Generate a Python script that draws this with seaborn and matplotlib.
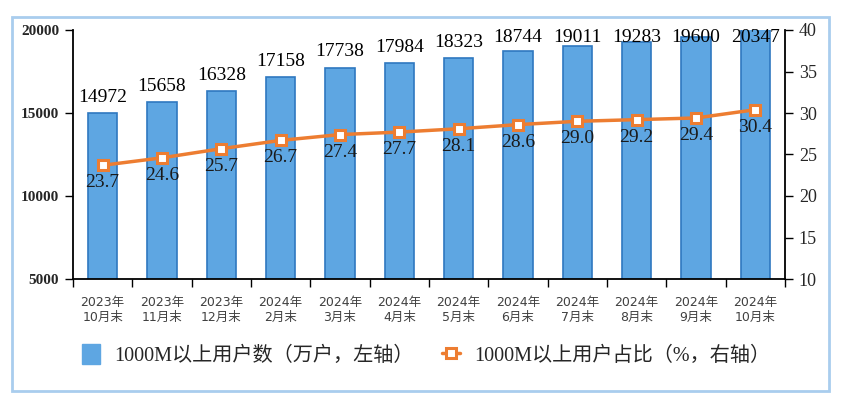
import matplotlib
matplotlib.use("Agg")
import matplotlib.pyplot as plt
import seaborn as sns
import numpy as np
import pandas as pd
from matplotlib.patches import Rectangle
from matplotlib.lines import Line2D
from matplotlib.patches import Patch

categories = ["2023年\n10月末", "2023年\n11月末", "2023年\n12月末", "2024年\n2月末",
              "2024年\n3月末", "2024年\n4月末", "2024年\n5月末", "2024年\n6月末",
              "2024年\n7月末", "2024年\n8月末", "2024年\n9月末", "2024年\n10月末"]
users = [14972, 15658, 16328, 17158, 17738, 17984, 18323, 18744, 19011, 19283, 19600, 20347]
share = [23.7, 24.6, 25.7, 26.7, 27.4, 27.7, 28.1, 28.6, 29.0, 29.2, 29.4, 30.4]
left_ticks = [5000, 10000, 15000, 20000]
right_ticks = [10, 15, 20, 25, 30, 35, 40]
bar_label = "1000M以上用户数（万户，左轴）"
line_label = "1000M以上用户占比（%，右轴）"

sns.set_theme(style="white")
plt.rcParams['font.family'] = ['Liberation Serif', 'Noto Sans CJK SC', 'DejaVu Sans']

BLUE = "#5ea6e2"
BLUE_EDGE = "#2f78c0"
ORANGE = "#ed7d31"

fig = plt.figure(figsize=(8.41, 3.97), dpi=100)
ax = fig.add_axes([73/841, 1-279/397, (785-73)/841, (279-30)/397])

df = pd.DataFrame({"cat": categories, "users": users, "share": share})
sns.barplot(data=df, x="cat", y="users", color=BLUE, width=0.49, ax=ax,
            edgecolor=BLUE_EDGE, linewidth=1.2, saturation=1)
ax.set_ylim(5000, 20000)
ax.set_xlim(-0.5, len(categories) - 0.5)
ax.set_yticks(left_ticks)
ax.set_yticklabels([str(t) for t in left_ticks], fontsize=11, fontweight="bold",
                   family="Liberation Serif")
ax.set_xlabel("")
ax.set_ylabel("")
ax.set_xticks(np.arange(len(categories)))
ax.set_xticklabels(categories, fontsize=9, family=["DejaVu Sans", "Noto Sans CJK SC"],
                   color="#404040", linespacing=1.2)
ax.tick_params(axis="x", length=0, pad=12)
ax.set_xticks(np.arange(-0.5, len(categories)), minor=True)
ax.tick_params(axis="x", which="minor", length=6, width=1, color="black", direction="out", bottom=True)
ax.tick_params(axis="y", length=6, width=1, color="black", direction="out", left=True, pad=4)
for s in ["top", "right"]:
    ax.spines[s].set_visible(False)
for s in ["left", "bottom"]:
    ax.spines[s].set_color("black")
    ax.spines[s].set_linewidth(1.3)

for i, v in enumerate(users):
    y = min(v + 950, 19520)
    ax.text(i, y, str(v), ha="center", va="center", fontsize=14,
            family="Liberation Serif", color="black", clip_on=False)

ax2 = ax.twinx()
sns.lineplot(x=np.arange(len(share)), y=share, ax=ax2, color=ORANGE, linewidth=2.5,
             marker="s", markersize=7, markerfacecolor="white",
             markeredgecolor=ORANGE, markeredgewidth=2.2)
ax2.set_ylim(10, 40)
ax2.set_yticks(right_ticks)
ax2.set_yticklabels([str(t) for t in right_ticks], fontsize=13, family="Liberation Serif")
ax2.tick_params(axis="y", length=6, width=1, color="black", direction="out", right=True, pad=4)
for s in ["top", "left", "bottom"]:
    ax2.spines[s].set_visible(False)
ax2.spines["right"].set_color("black")
ax2.spines["right"].set_linewidth(1.3)
for i, v in enumerate(share):
    ax2.text(i, v - 2.1, f"{v:.1f}", ha="center", va="center", fontsize=14,
             family="Liberation Serif", color="#1a1a1a")

handles = [Patch(facecolor=BLUE, edgecolor=BLUE, label=bar_label),
           Line2D([0], [0], color=ORANGE, linewidth=2.5, marker="s", markersize=7,
                  markerfacecolor="white", markeredgecolor=ORANGE, markeredgewidth=2.2,
                  label=line_label)]
fig.legend(handles=handles, loc="center", bbox_to_anchor=(426/841, 1-355/397), ncol=2,
           frameon=False, prop={"family": ["Liberation Serif", "Noto Sans CJK SC"], "size": 14.5},
           handlelength=0.9, handleheight=1.1, columnspacing=1.4, handletextpad=0.7)

fig.patches.append(Rectangle((12/841, 1-391/397), (829-12)/841, (391-17)/397,
                             transform=fig.transFigure, fill=False,
                             edgecolor="#a9cdee", linewidth=2))

fig.savefig("out.png", dpi=100)
